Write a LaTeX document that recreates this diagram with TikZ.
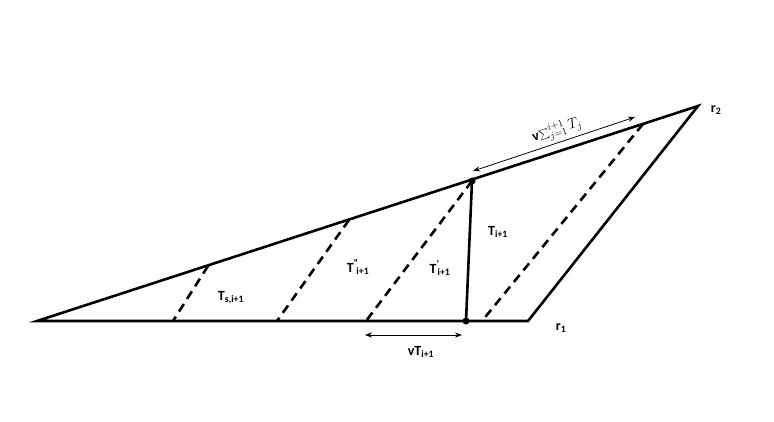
\documentclass[tikz,border=0pt]{standalone}
\usepackage{fontspec}
\setmainfont{Carlito}
\usetikzlibrary{arrows.meta}
\begin{document}
\begin{tikzpicture}[x=1pt,y=-1pt,
  edge/.style={line width=2.6pt,line cap=round},
  dashline/.style={line width=2.6pt,dash pattern=on 9pt off 6pt},
  dim/.style={line width=0.8pt,{Stealth[length=7pt]}-{Stealth[length=7pt]}},
  lbl/.style={font=\bfseries\fontsize{14}{16}\selectfont,inner sep=1pt},
  dotn/.style={circle,fill=black,inner sep=0pt,minimum size=7pt}]
\useasboundingbox (0,0) rectangle (774,421);
\coordinate (A) at (37,321);
\coordinate (r1) at (528,321);
\coordinate (r2) at (698,106);
\coordinate (t1) at (208,266);
\coordinate (t2) at (349,220);
\coordinate (t4) at (643,124);
\coordinate (b1) at (173,321);
\coordinate (b2) at (277,321);
\coordinate (b3) at (366,321);
\coordinate (b4) at (482,321);
\node[dotn] (P) at (472,181) {};
\node[dotn] (Q) at (466,321) {};
\draw[edge] (A) -- (r1) -- (r2) -- cycle;
\draw[dashline] (t1) -- (b1);
\draw[dashline] (t2) -- (b2);
\draw[dashline] (P.center) -- (b3);
\draw[dashline] (t4) -- (b4);
\draw[line width=2.6pt] (P.center) -- (Q.center);
\coordinate (a1) at (365,335);
\coordinate (a2) at (462,335);
\draw[dim] (a1) -- (a2);
\coordinate (c1) at (473,171);
\coordinate (c2) at (635,117);
\draw[dim] (c1) -- (c2);
\node[lbl] (l1) at (498,232) {T\textsubscript{i+1}};
\node[lbl] (l2) at (440,268) {T\textsuperscript{'}\kern-2pt\textsubscript{i+1}};
\node[lbl] (l3) at (358,267) {T\textsuperscript{''}\kern-2pt\textsubscript{i+1}};
\node[lbl] (l4) at (231,298) {T\textsubscript{s,i+1}};
\node[lbl] (l5) at (421,352) {vT\textsubscript{i+1}};
\node[lbl] (l6) at (561,328) {r\textsubscript{1}};
\node[lbl] (l7) at (716,110) {r\textsubscript{2}};
\node[lbl,rotate=18] (l8) at (557,130) {v$\sum_{j=1}^{i+1}T_j$};
\end{tikzpicture}
\end{document}
